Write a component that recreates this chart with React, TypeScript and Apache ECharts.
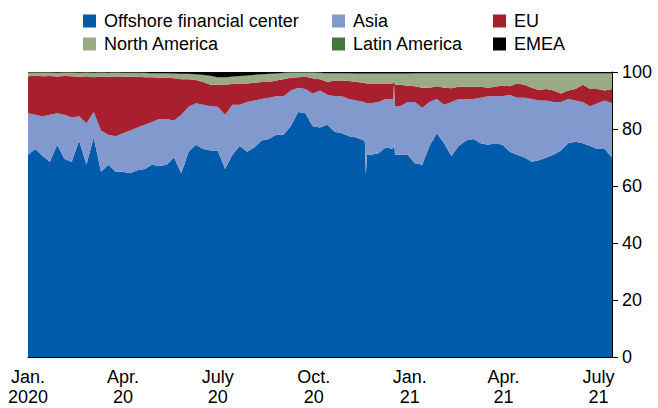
import React, { useEffect, useRef } from "react";
import * as echarts from "echarts";

const dates = [
  "2020-01-01","2020-01-08","2020-01-15","2020-01-22","2020-01-29","2020-02-05","2020-02-12","2020-02-19","2020-02-26",
  "2020-03-04","2020-03-11","2020-03-18","2020-03-25","2020-04-01","2020-04-08","2020-04-15","2020-04-22","2020-04-29",
  "2020-05-06","2020-05-13","2020-05-20","2020-05-27","2020-06-03","2020-06-10","2020-06-17","2020-06-24","2020-07-01",
  "2020-07-08","2020-07-15","2020-07-22","2020-07-29","2020-08-05","2020-08-12","2020-08-19","2020-08-26","2020-09-02",
  "2020-09-09","2020-09-16","2020-09-23","2020-09-30","2020-10-07","2020-10-14","2020-10-21","2020-10-28","2020-11-04",
  "2020-11-11","2020-11-18","2020-11-19","2020-11-20","2020-11-21","2020-11-25","2020-12-02","2020-12-09","2020-12-16",
  "2020-12-17","2020-12-18","2020-12-23","2020-12-30","2021-01-06","2021-01-13","2021-01-20","2021-01-27","2021-02-03",
  "2021-02-10","2021-02-17","2021-02-24","2021-03-03","2021-03-10","2021-03-17","2021-03-24","2021-03-31","2021-04-07",
  "2021-04-14","2021-04-21","2021-04-28","2021-05-05","2021-05-12","2021-05-19","2021-05-26","2021-06-02","2021-06-09",
  "2021-06-16","2021-06-23","2021-06-30","2021-07-07","2021-07-14"
];

const offshore = [
  71, 73, 70.5, 68.5, 74.5, 69.5, 68.5, 76, 67.5,
  77, 65, 67.5, 65, 65, 64.5, 65.5, 66, 67.5,
  67, 67.5, 70, 64.5, 72, 74.5, 73, 72.5, 72.5,
  66, 71, 74, 72, 73.5, 76, 76.5, 78, 78,
  81, 86, 85.5, 81, 80.5, 81.5, 79, 78.5, 77.5,
  77, 76, 75.5, 64, 71, 71, 71.5, 73.5, 73,
  75, 71, 71, 71, 68, 67.5, 74, 78.5, 75,
  70.5, 74, 76, 76.5, 75, 74.5, 75, 74.5, 72,
  71, 70, 68.5, 69, 70, 71, 72.5, 75, 75.5,
  75, 74, 73, 73, 70
];

const asia = [
  14.5, 12, 14, 16.5, 11, 15.5, 15.5, 8.5, 14.5,
  9, 14.5, 10.5, 12.5, 13.5, 15, 15, 15.5, 15,
  16.5, 16, 13, 20.5, 15.8, 14.5, 15.5, 15.5, 15.3,
  19, 17.5, 14.5, 17.5, 16.5, 14.5, 14.5, 13.5, 13.5,
  12.5, 8.5, 8.5, 11.5, 13, 10.5, 12.5, 13, 13,
  13, 13.5, 14, 25, 18, 18, 18, 17, 17.5,
  21, 17, 17, 18.5, 21.5, 20, 15.5, 12, 13.5,
  19, 16.5, 14.5, 14, 16, 17, 16.5, 17, 20,
  20, 21, 22, 21, 20, 18.5, 17, 15.5, 14.5,
  14.5, 14, 16, 17, 19
];

const eu = [
  13, 13.7, 14, 13.6, 12.9, 13.6, 14.5, 13.8, 16.5,
  12.2, 18.9, 20.3, 20.9, 19.9, 18.8, 17.8, 16.7, 15.7,
  14.5, 14.5, 14.8, 12.5, 9.7, 8.2, 8, 7.5, 7.7,
  10.5, 7.3, 7.5, 6.5, 6.2, 6, 5.5, 5.5, 6,
  4.5, 3.7, 4.3, 5.3, 4, 4.5, 5.5, 5.5, 6.3,
  6.5, 6.7, 6.7, 7, 7, 7, 6.5, 5.5, 5.5,
  1, 7.5, 7.5, 5.7, 5.5, 7, 5, 4.5, 6,
  4.8, 4.3, 4.3, 4.3, 3.8, 3, 3.3, 3.8, 3,
  5, 4.5, 4, 3.7, 4, 4, 3, 3, 4,
  6, 6, 5, 3.5, 5
];

const northAmerica = [
  1.1, 0.9, 1.1, 1.0, 1.1, 1.0, 1.1, 1.2, 1.1,
  1.3, 1.2, 1.2, 1.2, 1.1, 1.2, 1.2, 1.3, 1.2,
  1.4, 1.4, 1.5, 1.7, 1.7, 1.8, 2.3, 3.0, 2.5,
  2.5, 2.4, 2.4, 2.6, 2.6, 2.5, 2.7, 2.3, 2.0,
  1.6, 1.4, 1.3, 1.8, 2.0, 2.9, 2.4, 2.4, 2.6,
  2.8, 3.1, 3.1, 3.3, 3.3, 3.3, 3.3, 3.3, 3.3,
  2.3, 3.8, 3.8, 4.1, 4.4, 4.9, 4.9, 4.4, 4.9,
  5.1, 4.6, 4.6, 4.6, 4.6, 4.9, 4.6, 4.1, 4.4,
  3.4, 3.9, 4.9, 5.7, 5.4, 5.9, 6.9, 5.9, 5.4,
  3.9, 5.4, 5.4, 5.9, 5.4
];

const latinAmerica = [
  0.2, 0.2, 0.2, 0.2, 0.2, 0.2, 0.2, 0.2, 0.2,
  0.2, 0.2, 0.2, 0.2, 0.2, 0.2, 0.2, 0.2, 0.2,
  0.2, 0.2, 0.2, 0.2, 0.2, 0.2, 0.2, 0.2, 0.2,
  0.2, 0.2, 0.2, 0.2, 0.2, 0.2, 0.2, 0.2, 0.2,
  0.2, 0.2, 0.2, 0.2, 0.2, 0.2, 0.2, 0.2, 0.2,
  0.2, 0.2, 0.2, 0.2, 0.2, 0.2, 0.2, 0.2, 0.2,
  0.2, 0.2, 0.2, 0.2, 0.2, 0.2, 0.2, 0.2, 0.2,
  0.2, 0.2, 0.2, 0.2, 0.2, 0.2, 0.2, 0.2, 0.2,
  0.2, 0.2, 0.2, 0.2, 0.2, 0.2, 0.2, 0.2, 0.2,
  0.2, 0.2, 0.2, 0.2, 0.2
];

const emea = [
  0.2, 0.2, 0.2, 0.2, 0.3, 0.2, 0.2, 0.3, 0.2,
  0.3, 0.2, 0.3, 0.2, 0.3, 0.3, 0.3, 0.3, 0.4,
  0.4, 0.4, 0.5, 0.6, 0.6, 0.8, 1.0, 1.3, 1.8,
  1.8, 1.6, 1.4, 1.2, 1.0, 0.8, 0.6, 0.5, 0.3,
  0.2, 0.2, 0.2, 0.2, 0.3, 0.4, 0.4, 0.4, 0.4,
  0.5, 0.5, 0.5, 0.5, 0.5, 0.5, 0.5, 0.5, 0.5,
  0.5, 0.5, 0.5, 0.5, 0.4, 0.4, 0.4, 0.4, 0.4,
  0.4, 0.4, 0.4, 0.4, 0.4, 0.4, 0.4, 0.4, 0.4,
  0.4, 0.4, 0.4, 0.4, 0.4, 0.4, 0.4, 0.4, 0.4,
  0.4, 0.4, 0.4, 0.4, 0.4
];

const seriesNames = [
  "Offshore financial center",
  "Asia",
  "EU",
  "North America",
  "Latin America",
  "EMEA",
];
const seriesColors = ["#005baa", "#8199cc", "#a81f30", "#9aab84", "#46763a", "#000000"];
const monthLabels: Record<number, string> = { 0: "Jan.", 3: "Apr.", 6: "July", 9: "Oct." };

const FONT = "'Liberation Sans', Arial, Helvetica, sans-serif";
const DAY = 24 * 3600 * 1000;

export default function App() {
  const ref = useRef<HTMLDivElement>(null);

  useEffect(() => {
    if (!ref.current) return;
    const chart = echarts.init(ref.current, undefined, { renderer: "svg" });
    const values = [offshore, asia, eu, northAmerica, latinAmerica, emea];
    const minTime = new Date(2020, 0, 1).getTime();

    const legendBase = {
      orient: "vertical" as const,
      top: 12,
      padding: 0,
      itemGap: 5,
      itemWidth: 13,
      itemHeight: 13,
      icon: "rect",
      selectedMode: false,
      textStyle: { fontSize: 18, lineHeight: 18, color: "#000", fontFamily: FONT, padding: [0, 0, 0, 3] },
    };

    chart.setOption({
      animation: false,
      textStyle: { fontFamily: FONT },
      grid: { left: 28, right: 46, top: 72, bottom: 51, containLabel: false, outerBoundsMode: "none" },
      legend: [
        { ...legendBase, left: 83, data: ["Offshore financial center", "North America"] },
        { ...legendBase, left: 332, data: ["Asia", "Latin America"] },
        { ...legendBase, left: 493, data: ["EU", "EMEA"] },
      ],
      xAxis: {
        type: "time",
        min: minTime,
        max: new Date(2021, 6, 14).getTime(),
        splitNumber: 6,
        minInterval: 100 * DAY,
        maxInterval: 100 * DAY,
        axisLine: { show: true, lineStyle: { color: "#000", width: 1 } },
        axisTick: { show: true, inside: true, length: 6, lineStyle: { color: "#000", width: 1 } },
        splitLine: { show: false },
        minorTick: { show: false },
        axisLabel: {
          fontSize: 18,
          lineHeight: 20,
          color: "#000",
          fontFamily: FONT,
          margin: 10,
          showMinLabel: true,
          hideOverlap: false,
          alignMinLabel: "center",
          alignMaxLabel: "center",
          formatter: (val: number) => {
            const d = new Date(val);
            const m = monthLabels[d.getMonth()] ?? "";
            const y = Math.abs(val - minTime) < DAY ? "2020" : String(d.getFullYear()).slice(2);
            return m + "\n" + y;
          },
        },
      },
      yAxis: {
        type: "value",
        position: "right",
        min: 0,
        max: 100,
        interval: 20,
        axisLine: { show: true, lineStyle: { color: "#000", width: 1 } },
        axisTick: { show: true, length: 6, lineStyle: { color: "#000", width: 1 } },
        splitLine: { show: false },
        axisLabel: { fontSize: 18, color: "#000", fontFamily: FONT, margin: 10 },
      },
      series: seriesNames.map((name, k) => ({
        name,
        type: "line",
        stack: "total",
        symbol: "none",
        showSymbol: false,
        silent: true,
        emphasis: { disabled: true },
        lineStyle: { width: 0 },
        itemStyle: { color: seriesColors[k] },
        areaStyle: { color: seriesColors[k], opacity: 1 },
        data: dates.map((d, i) => [d, values[k][i]]),
      })),
    });

    return () => chart.dispose();
  }, []);

  return (
    <div
      ref={ref}
      style={{ position: "fixed", left: 0, top: 0, width: 658, height: 408, background: "#fff" }}
    />
  );
}
